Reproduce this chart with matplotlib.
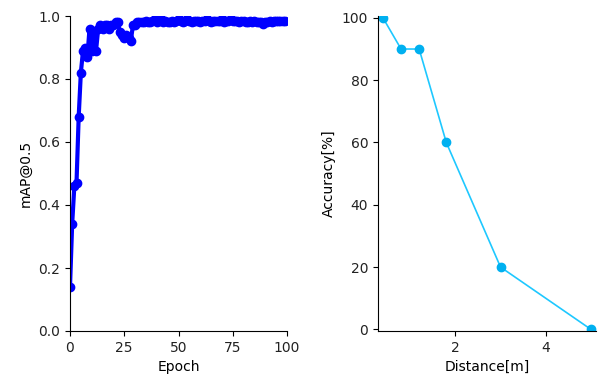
import matplotlib
matplotlib.use('Agg')
import matplotlib.pyplot as plt
import numpy as np

# mAP@0.5 per epoch
epochs = list(range(100))
map50 = [0.14, 0.34, 0.46, 0.47, 0.68, 0.82, 0.89, 0.90, 0.87, 0.96,
         0.89, 0.95, 0.89, 0.96, 0.97, 0.96, 0.97, 0.97, 0.96, 0.97,
         0.97, 0.98, 0.98, 0.95, 0.94, 0.93, 0.94, 0.93, 0.92, 0.97,
         0.97, 0.98, 0.98, 0.98, 0.98, 0.985, 0.98, 0.98, 0.985, 0.99,
         0.98, 0.985, 0.99, 0.98, 0.985, 0.98, 0.98, 0.985, 0.98, 0.985,
         0.99, 0.985, 0.98, 0.985, 0.99, 0.985, 0.98, 0.985, 0.985, 0.985,
         0.98, 0.985, 0.985, 0.99, 0.985, 0.98, 0.985, 0.985, 0.985, 0.985,
         0.99, 0.98, 0.985, 0.985, 0.99, 0.985, 0.985, 0.985, 0.98, 0.985,
         0.985, 0.98, 0.98, 0.985, 0.98, 0.985, 0.98, 0.98, 0.98, 0.975,
         0.98, 0.98, 0.985, 0.98, 0.985, 0.985, 0.985, 0.985, 0.985, 0.985]

# accuracy vs distance
distance = [0.4, 0.8, 1.2, 1.8, 3.0, 5.0]
accuracy = [100, 90, 90, 60, 20, 0]

fig = plt.figure(figsize=(6.08, 3.76), dpi=100)

ax1 = fig.add_axes([70/608, 45/376, 217/608, 315/376])
ax1.plot(epochs, map50, color='blue', marker='o', linewidth=3, markersize=6)
ax1.set_xlim(0, 100)
ax1.set_ylim(0, 1.0)
ax1.set_xticks([0, 25, 50, 75, 100])
ax1.set_xlabel('Epoch')
ax1.set_ylabel('mAP@0.5')
ax1.spines['top'].set_visible(False)
ax1.spines['right'].set_visible(False)

ax2 = fig.add_axes([378/608, 45/376, 218/608, 315/376])
ax2.plot(distance, accuracy, color='#1ec8ff', marker='o', linewidth=1.2, markersize=6,
         markerfacecolor='#00b0f0', markeredgecolor='#00b0f0')
ax2.set_xlim(0.29, 5.11)
ax2.set_ylim(-0.5, 100.6)
ax2.set_xticks([2, 4])
ax2.set_xlabel('Distance[m]')
ax2.set_ylabel('Accuracy[%]')
ax2.spines['top'].set_visible(False)
ax2.spines['right'].set_visible(False)

for ax in (ax1, ax2):
    for lab in ax.get_xticklabels() + ax.get_yticklabels():
        lab.set_color('#222222')

fig.savefig('out.png', dpi=100)
